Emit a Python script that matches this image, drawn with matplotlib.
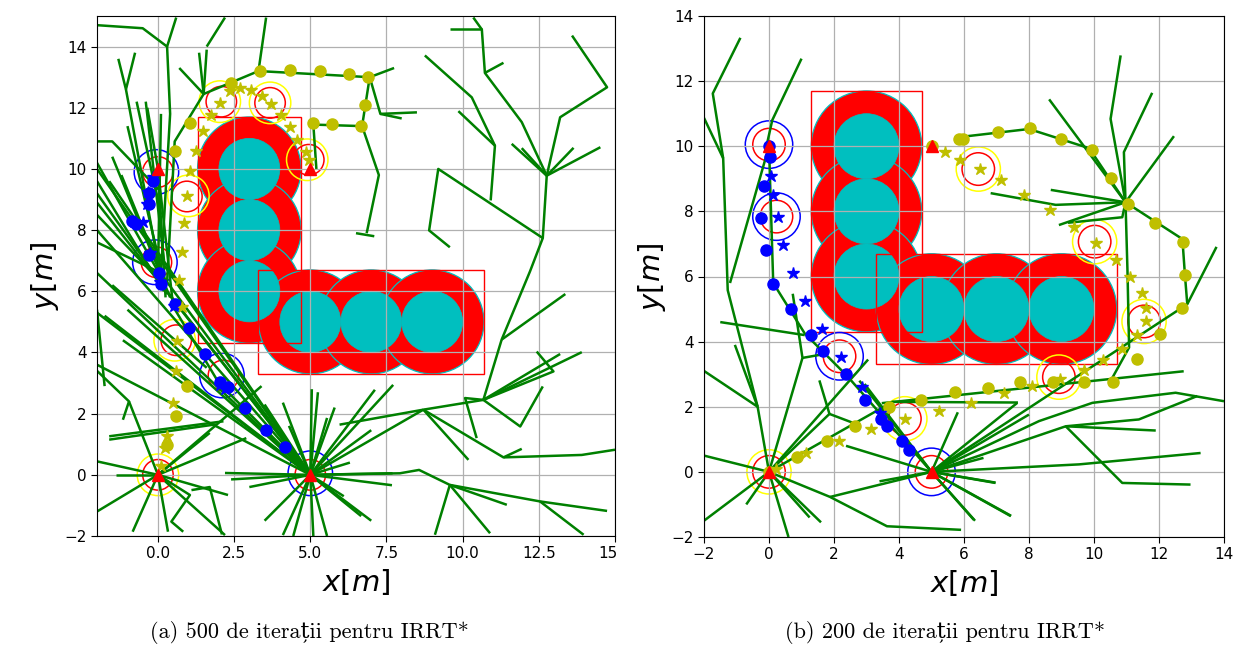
import matplotlib
matplotlib.use("Agg")
import matplotlib.pyplot as plt
from matplotlib.patches import Circle, Rectangle

# ---------------- shared obstacle description ----------------
obs_x = [3, 3, 3, 5, 7, 9]
obs_y = [10, 8, 6, 5, 5, 5]
obs_core_r = 1.0
obs_safe_r = 1.7
# bounding boxes of the L shaped obstacle: (x0, y0, x1, y1)
box_vert = (1.3, 4.3, 4.7, 11.7)
box_horz = (3.3, 3.3, 10.7, 6.7)

# ---------------- panel (a): 500 iterations ----------------
a_tri_x = [0, 5, 0, 5]
a_tri_y = [10, 10, 0, 0]

a_blue_dot_x = [-0.15, -0.3, -0.3, -0.72, -0.85, -0.3, 0.05, 0.1, 0.56, 1.03, 1.53, 2.03, 2.3, 2.87, 3.56, 4.16]
a_blue_dot_y = [9.6, 9.2, 8.84, 8.2, 8.3, 7.2, 6.6, 6.25, 5.6, 4.79, 3.94, 3.04, 2.87, 2.17, 1.46, 0.9]
a_blue_star_x = [-0.17, -0.31, -0.36, -0.48, -0.8, -0.26, 0.08, 0.53, 2.03, 2.2]
a_blue_star_y = [9.75, 9.23, 8.84, 8.28, 8.25, 7.26, 6.3, 5.52, 2.93, 2.8]

a_olive_star_x = [0.1, 0.22, 0.3, 0.5, 0.58, 0.63, 0.8, 0.7, 0.8, 0.86, 0.94, 1.05, 1.25, 1.47, 1.73,
                  2.04, 2.37, 2.7, 3.07, 3.42, 3.72, 4.05, 4.34, 4.58, 4.86, 4.97]
a_olive_star_y = [0.3, 0.88, 1.26, 2.36, 3.4, 4.38, 5.48, 6.36, 7.3, 8.24, 9.12, 9.93, 10.6, 11.23, 11.76,
                  12.16, 12.55, 12.66, 12.57, 12.38, 12.13, 11.76, 11.36, 10.96, 10.57, 10.3]
a_olive_dot_x = [0.3, 0.58, 0.94, 0.55, 1.05, 2.4, 3.34, 4.33, 5.33, 6.26, 6.9, 6.8, 6.67, 5.7, 5.08]
a_olive_dot_y = [0.99, 1.92, 2.9, 10.6, 11.5, 12.8, 13.2, 13.24, 13.19, 13.12, 13.0, 12.08, 11.4, 11.47, 11.5]

a_blue_ring_x = [-0.05, -0.1, 2.1, 5.0]
a_blue_ring_y = [9.9, 6.95, 3.25, 0.05]
a_yellow_ring_x = [1.0, 0.55, 2.03, 3.68, 4.9, 0.0]
a_yellow_ring_y = [9.12, 4.4, 12.2, 12.16, 10.3, 0.0]
a_red_ring_x = [0.0, -0.05, 2.15, 5.0, 0.95, 0.6, 2.08, 3.68, 4.95, 0.0]
a_red_ring_y = [9.9, 6.95, 3.25, 0.0, 9.1, 4.4, 12.2, 12.16, 10.3, 0.0]

a_tree = [
    [(-2.0, 14.7), (-0.5, 14.6), (0.3, 14.0), (0.6, 14.95)],
    [(0.3, 14.0), (0.4, 11.8), (0.1, 6.6)],
    [(-1.3, 13.6), (-1.05, 12.6), (-0.75, 13.8)],
    [(-1.05, 12.6), (0.05, 6.7)],
    [(0.7, 13.3), (1.5, 12.45), (1.6, 13.9)],
    [(1.5, 12.45), (1.35, 13.8)],
    [(1.5, 12.45), (3.3, 13.2), (6.95, 13.0), (7.75, 13.3)],
    [(3.3, 13.2), (3.55, 14.95)],
    [(1.6, 14.0), (2.2, 14.95)],
    [(1.5, 12.45), (0.55, 10.9), (0.3, 6.3)],
    [(6.95, 13.0), (7.3, 11.8), (8.5, 11.85)],
    [(7.3, 11.8), (8.0, 11.65)],
    [(6.95, 13.0), (6.7, 11.4), (5.1, 11.45), (5.2, 10.0)],
    [(6.7, 11.4), (7.25, 9.8), (6.85, 7.9)],
    [(6.5, 7.9), (7.1, 7.8)],
    [(-2.0, 10.9), (-1.5, 10.9), (0.05, 9.3)],
    [(-0.35, 12.0), (0.0, 10.0)],
    [(-0.7, 12.2), (0.1, 8.5)],
    [(-0.4, 12.2), (0.2, 7.0)],
    [(0.1, 11.8), (0.0, 6.5)],
    [(-1.0, 11.4), (0.3, 5.9)],
    [(-2.0, 10.2), (0.2, 6.3)],
    [(-2.0, 9.6), (0.2, 6.0)],
    [(-2.0, 9.2), (0.3, 6.0)],
    [(-1.5, 10.4), (0.4, 5.8)],
    [(-1.2, 9.8), (0.15, 6.5)],
    [(-2.0, 8.5), (0.2, 6.2)],
    [(-2.0, 7.6), (0.1, 6.6)],
    [(0.0, 10.0), (0.25, 5.8)],
    [(0.0, 6.7), (5.0, 0.0)],
    [(0.3, 6.0), (5.0, 0.0)],
    [(0.0, 10.0), (0.5, 5.5), (2.0, 3.0), (5.0, 0.0)],
    [(-2.0, 10.0), (5.0, 0.0)],
    [(-1.6, 9.6), (5.0, 0.0)],
    [(-2.0, 8.9), (5.0, 0.0)],
    [(-2.0, 8.0), (5.0, 0.0)],
    [(-2.0, 6.6), (5.0, 0.0)],
    [(-2.0, 5.3), (5.0, 0.0)],
    [(-1.75, 5.2), (5.0, 0.0)],
    [(-2.0, 3.6), (5.0, 0.0)],
    [(-1.15, 4.4), (5.0, 0.0)],
    [(-1.0, 5.4), (5.0, 0.0)],
    [(-1.5, 6.2), (1.6, 3.5)],
    [(-2.0, 5.4), (-1.75, 2.9)],
    [(-2.0, 3.4), (-0.95, 2.4), (-1.15, 1.8)],
    [(-0.95, 2.4), (0.0, 0.0)],
    [(-1.6, 1.26), (2.15, 1.75)],
    [(-1.6, 1.15), (1.9, 1.65)],
    [(-2.0, 0.44), (0.0, 0.0)],
    [(-1.38, 0.0), (0.0, 0.0)],
    [(-2.0, -1.2), (0.0, 0.0)],
    [(-0.83, -1.86), (0.0, 0.0)],
    [(0.33, -1.86), (0.0, 0.0)],
    [(0.0, 0.0), (1.05, -0.66), (0.44, -1.53), (0.83, -1.86)],
    [(0.0, 0.0), (1.7, 1.37)],
    [(0.0, 0.0), (2.3, -0.66)],
    [(0.0, 0.0), (2.2, -1.97)],
    [(0.0, 0.0), (2.9, 1.2)],
    [(0.0, 0.0), (3.4, 2.9)],
    [(1.1, -0.5), (1.7, -0.4), (2.1, -1.95)],
    [(5.0, 0.0), (5.05, 2.8)],
    [(5.0, 0.0), (5.25, 2.7)],
    [(5.0, 0.0), (5.55, 1.86)],
    [(5.0, 0.0), (5.8, 2.2)],
    [(5.0, 0.0), (7.12, 2.78)],
    [(5.0, 0.0), (7.72, 2.94)],
    [(5.0, 0.0), (7.0, 1.46)],
    [(5.0, 0.0), (7.68, -0.34)],
    [(5.0, 0.0), (7.7, 0.05)],
    [(5.0, 0.0), (7.0, -1.5)],
    [(5.0, 0.0), (6.67, -1.35)],
    [(5.0, 0.0), (6.1, -0.7)],
    [(5.0, 0.0), (5.55, -2.0)],
    [(5.0, 0.0), (5.1, -2.0)],
    [(5.0, 0.0), (4.44, -2.0)],
    [(5.0, 0.0), (4.1, -1.97)],
    [(5.0, 0.0), (3.5, -1.5)],
    [(5.0, 0.0), (2.2, 0.06)],
    [(5.0, 0.0), (2.4, -0.15)],
    [(5.0, 0.0), (4.1, 2.36)],
    [(5.0, 0.0), (3.5, 2.3)],
    [(5.0, 0.0), (6.3, 0.4)],
    [(5.0, 0.0), (4.3, 1.6)],
    [(5.0, 0.0), (3.0, -0.4)],
    [(5.0, 0.0), (8.71, 2.13)],
    [(5.0, 0.0), (7.94, 0.05), (8.57, 0.16), (9.58, -0.33), (12.54, -0.87), (14.74, -1.18)],
    [(9.58, -0.33), (9.09, -1.96)],
    [(9.58, -0.33), (10.9, -1.91)],
    [(9.58, -0.33), (11.45, -0.98)],
    [(12.54, -0.87), (13.97, -1.96)],
    [(5.96, 1.64), (8.71, 2.13), (10.68, 2.45)],
    [(10.68, 2.45), (11.28, 4.42), (12.21, 6.65), (12.63, 7.74), (12.76, 9.78), (11.94, 11.53),
     (10.73, 13.14), (10.63, 14.56), (10.35, 14.95)],
    [(9.58, 14.56), (10.63, 14.56)],
    [(10.73, 13.14), (11.34, 13.47)],
    [(11.28, 4.42), (13.37, 5.91)],
    [(10.68, 2.45), (13.91, 4.01)],
    [(10.68, 2.45), (13.2, 3.95)],
    [(10.68, 2.45), (12.98, 3.38), (12.43, 4.03)],
    [(10.68, 2.45), (11.89, 1.58), (12.63, 2.89)],
    [(10.68, 2.45), (10.08, 2.51), (10.46, 1.2)],
    [(8.71, 2.13), (11.34, 0.57), (13.91, 0.65), (15.0, 0.82)],
    [(11.34, 0.57), (11.94, 0.85)],
    [(8.71, 2.13), (10.19, 0.49)],
    [(12.76, 9.78), (13.2, 11.69), (14.74, 12.67), (13.59, 14.36)],
    [(12.76, 9.78), (11.61, 10.82)],
    [(12.76, 9.78), (11.94, 10.68)],
    [(12.76, 9.78), (13.64, 10.69)],
    [(12.76, 9.78), (14.52, 10.71)],
    [(12.63, 7.74), (9.2, 10.0), (8.9, 7.99), (9.58, 7.44)],
    [(10.92, 8.97), (11.06, 10.76), (10.3, 12.34), (8.76, 13.71)],
    [(9.86, 11.89), (11.06, 10.76)],
]

# ---------------- panel (b): 200 iterations ----------------
b_tri_x = [0, 5, 0, 5]
b_tri_y = [10, 10, 0, 0]

b_blue_dot_x = [0.0, 0.04, -0.14, -0.24, -0.08, 0.13, 0.69, 1.3, 1.67, 2.36, 2.94, 3.45, 3.63, 4.08, 4.32]
b_blue_dot_y = [10.02, 9.68, 8.77, 7.79, 6.8, 5.77, 5.01, 4.19, 3.71, 3.02, 2.22, 1.63, 1.42, 0.94, 0.67]
b_blue_star_x = [0.07, 0.13, 0.27, 0.42, 0.73, 1.11, 1.63, 2.2, 2.86, 3.42]
b_blue_star_y = [9.09, 8.51, 7.84, 6.98, 6.11, 5.26, 4.4, 3.52, 2.61, 1.81]

b_olive_star_x = [5.41, 5.88, 6.48, 7.13, 7.86, 8.65, 9.38, 10.05, 10.69, 11.11, 11.49, 11.61, 11.59, 11.33,
                  10.85, 10.27, 9.68, 8.94, 8.09, 7.22, 6.23, 5.22, 4.18, 3.15, 2.14, 1.14, 0.23]
b_olive_star_y = [9.81, 9.59, 9.31, 8.96, 8.51, 8.03, 7.53, 7.04, 6.5, 6.0, 5.5, 5.04, 4.62, 4.19,
                  3.76, 3.44, 3.12, 2.86, 2.64, 2.41, 2.11, 1.88, 1.63, 1.31, 0.96, 0.57, 0.09]
b_olive_dot_x = [0.0, 0.87, 1.77, 2.65, 3.68, 4.67, 5.73, 6.73, 7.72, 8.73, 9.68, 10.58, 11.33, 12.02,
                 12.71, 12.81, 12.74, 11.89, 11.06, 10.51, 9.95, 8.99, 8.04, 7.06, 5.97, 5.85, 5.01]
b_olive_dot_y = [0.0, 0.46, 0.94, 1.42, 2.0, 2.22, 2.45, 2.59, 2.75, 2.75, 2.77, 2.77, 3.48, 4.24,
                 5.04, 6.06, 7.07, 7.65, 8.24, 9.04, 9.89, 10.21, 10.55, 10.43, 10.23, 10.23, 10.02]

b_blue_ring_x = [0.0, 0.23, 2.17, 5.0]
b_blue_ring_y = [10.05, 7.84, 3.55, 0.0]
b_yellow_ring_x = [6.44, 10.02, 11.54, 8.92, 4.18, 0.0]
b_yellow_ring_y = [9.3, 7.07, 4.62, 2.91, 1.63, 0.0]
b_red_ring_x = [0.0, 0.23, 2.17, 5.0, 6.44, 10.02, 11.54, 8.92, 4.18, 0.0]
b_red_ring_y = [10.05, 7.84, 3.55, 0.0, 9.3, 7.07, 4.62, 2.91, 1.63, 0.0]

b_hub = (10.97, 8.28)
b_tree = [
    [(-0.88, 13.33), (-1.73, 11.62), (-1.41, 9.63), (-1.27, 5.58), (-0.35, 2.0), (0.0, 0.0)],
    [(-2.0, 10.87), (-1.41, 9.63)],
    [(1.0, 12.69), (0.1, 10.8), (-0.1, 9.9)],
    [(0.0, 10.0), (-1.2, 5.8)],
    [(0.0, 10.0), (0.13, 5.8), (1.1, 4.25), (2.4, 2.95), (5.0, 0.0)],
    [(-1.5, 4.6), (1.1, 4.2)],
    [(0.73, 5.47), (1.03, 3.5), (0.0, 0.0)],
    [(1.03, 3.5), (1.6, 3.6)],
    [(-1.05, 3.9), (-0.35, 2.0)],
    [(-2.0, 3.1), (-0.35, 2.0)],
    [(0.0, 0.0), (-2.0, 0.5)],
    [(0.0, 0.0), (-2.0, -1.5)],
    [(0.0, 0.0), (-0.7, -1.0)],
    [(0.0, 0.0), (0.6, -2.0)],
    [(0.0, 0.0), (1.6, -1.55)],
    [(0.0, 0.0), (1.25, -1.4)],
    [(0.0, 0.0), (1.88, -0.77), (3.63, -1.67), (5.91, -1.78)],
    [(0.0, 0.0), (3.05, 3.45)],
    [(0.0, 0.0), (1.86, 1.78), (1.55, 2.81)],
    [(1.86, 1.78), (2.6, 1.5)],
    [(0.0, 0.0), (3.8, 2.15), (7.66, 2.13)],
    [(3.47, 2.11), (12.76, 3.09)],
    [(1.88, -0.77), (5.0, 0.0)],
    [(2.37, 0.8), (5.0, 0.0)],
    [(3.4, -0.29), (5.0, 0.0)],
    [(2.94, 2.7), (5.0, 0.0)],
    [(2.78, 2.8), (5.0, 0.0)],
    [(5.0, 0.0), (7.45, -1.35)],
    [(5.0, 0.0), (6.34, -1.5)],
    [(5.0, 0.0), (6.97, -0.33)],
    [(5.0, 0.0), (6.6, 0.43)],
    [(5.0, 0.0), (5.81, 1.83)],
    [(5.0, 0.0), (9.54, 0.23), (13.28, 0.58)],
    [(5.0, 0.0), (12.87, 5.15), (13.77, 6.91)],
    [(5.0, 0.0), (8.0, 1.76)],
    [(5.0, 0.0), (7.64, 2.12)],
    [(5.0, 0.0), (9.13, 1.4), (11.9, 1.27)],
    [(9.13, 1.4), (11.38, 1.61), (13.18, 2.33)],
    [(9.13, 1.4), (10.87, -0.34), (12.97, -0.39)],
    [(5.0, 0.0), (8.31, 1.56), (9.95, 2.12), (12.51, 2.43), (14.0, 2.17)],
    [(5.0, 0.0), (6.97, -0.34)],
    [(5.0, 0.0), (7.44, -1.36)],
    [(5.0, 0.0), (6.3, -1.47)],
    [(5.85, 10.28), (8.0, 10.53), (9.85, 9.94), b_hub],
    [b_hub, (8.62, 11.44)],
    [b_hub, (10.51, 10.84), (10.82, 12.79)],
    [b_hub, (10.92, 9.82), (11.79, 11.64)],
    [b_hub, (12.46, 10.31)],
    [b_hub, (8.67, 8.66)],
    [b_hub, (8.82, 8.2), (6.82, 8.56)],
    [b_hub, (8.92, 7.58)],
    [b_hub, (10.87, 7.82), (9.2, 7.65)],
    [b_hub, (12.72, 7.15), (12.8, 6.02), (12.87, 5.15)],
    [b_hub, (11.03, 6.17), (11.08, 3.82), (10.51, 2.79)],
]


def draw_panel(ax, tree, tri, bdot, bstar, odot, ostar, rings):
    # obstacle: inflated red discs with cyan cores and the bounding boxes
    for cx, cy in zip(obs_x, obs_y):
        ax.add_patch(Circle((cx, cy), obs_safe_r, facecolor="red", edgecolor="c", lw=0.9, zorder=1))
    for cx, cy in zip(obs_x, obs_y):
        ax.add_patch(Circle((cx, cy), obs_core_r, facecolor="c", edgecolor="c", lw=0.5, zorder=1.05))
    for x0, y0, x1, y1 in (box_vert, box_horz):
        ax.add_patch(Rectangle((x0, y0), x1 - x0, y1 - y0, fill=False, edgecolor="red", lw=1.0, zorder=1.1))

    # safety rings around robots
    for (xs, ys), col, r in zip(rings, ("blue", "yellow", "red"), (0.73, 0.68, 0.5)):
        for cx, cy in zip(xs, ys):
            ax.add_patch(Circle((cx, cy), r, fill=False, edgecolor=col, lw=1.1, zorder=1.2))

    # exploration trees
    for seg in tree:
        xs = [p[0] for p in seg]
        ys = [p[1] for p in seg]
        ax.plot(xs, ys, color="g", lw=1.8, zorder=2, solid_capstyle="butt")

    # trajectories
    ax.plot(odot[0], odot[1], "o", color="y", ms=8, zorder=2.5)
    ax.plot(ostar[0], ostar[1], "*", color="y", ms=9, zorder=2.6)
    ax.plot(bdot[0], bdot[1], "o", color="b", ms=8, zorder=2.5)
    ax.plot(bstar[0], bstar[1], "*", color="b", ms=9, zorder=2.6)
    ax.plot(tri[0], tri[1], "^", color="r", ms=8, zorder=3)

    ax.grid(True, color="#b0b0b0", lw=0.9)
    ax.set_axisbelow("line")
    ax.tick_params(labelsize=11, length=4)
    ax.set_xlabel("$x[m]$", fontsize=21, labelpad=4)
    ax.set_ylabel("$y[m]$", fontsize=21, labelpad=2)


fig = plt.figure(figsize=(12.42, 6.51), dpi=100)
ax_a = fig.add_axes([97 / 1242, 1 - 536 / 651, 518 / 1242, 520 / 651])
ax_b = fig.add_axes([704 / 1242, 1 - 537 / 651, 520 / 1242, 521 / 651])

draw_panel(ax_a, a_tree, (a_tri_x, a_tri_y), (a_blue_dot_x, a_blue_dot_y), (a_blue_star_x, a_blue_star_y),
           (a_olive_dot_x, a_olive_dot_y), (a_olive_star_x, a_olive_star_y),
           [(a_blue_ring_x, a_blue_ring_y), (a_yellow_ring_x, a_yellow_ring_y), (a_red_ring_x, a_red_ring_y)])
draw_panel(ax_b, b_tree, (b_tri_x, b_tri_y), (b_blue_dot_x, b_blue_dot_y), (b_blue_star_x, b_blue_star_y),
           (b_olive_dot_x, b_olive_dot_y), (b_olive_star_x, b_olive_star_y),
           [(b_blue_ring_x, b_blue_ring_y), (b_yellow_ring_x, b_yellow_ring_y), (b_red_ring_x, b_red_ring_y)])

ax_a.set_xlim(-2, 15)
ax_a.set_ylim(-2, 15)
ax_a.set_xticks([0, 2.5, 5, 7.5, 10, 12.5, 15])
ax_a.set_yticks(range(-2, 15, 2))
ax_b.set_xlim(-2, 14)
ax_b.set_ylim(-2, 14)
ax_b.set_xticks(range(-2, 15, 2))
ax_b.set_yticks(range(-2, 15, 2))

# the left sub-figure is cut just right of its frame
fig.add_artist(Rectangle((618 / 1242, 0.1), 40 / 1242, 0.08, transform=fig.transFigure,
                         facecolor="white", edgecolor="none", zorder=10))

cap_font = ["cmr10", "DejaVu Serif"]
fig.text(0.249, 0.028, "(a) 500 de iterații pentru IRRT*", ha="center", va="center",
         fontsize=16, family=cap_font)
fig.text(0.761, 0.028, "(b) 200 de iterații pentru IRRT*", ha="center", va="center",
         fontsize=16, family=cap_font)

fig.savefig("out.png", dpi=100)
